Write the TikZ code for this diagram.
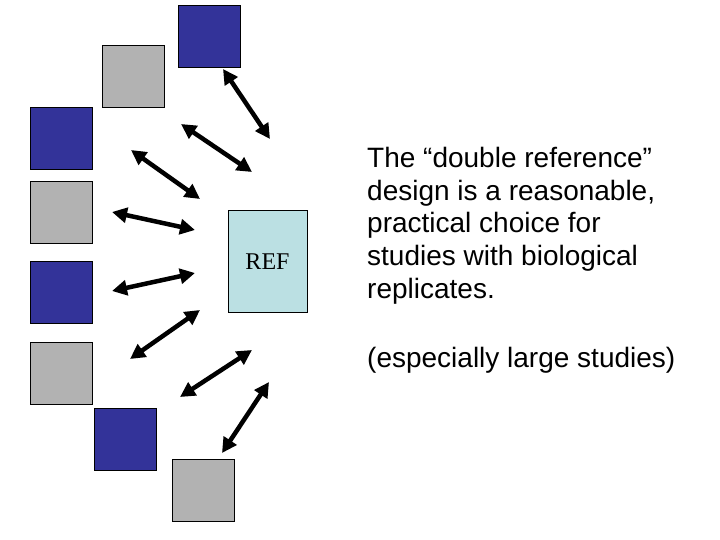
\documentclass[tikz,border=0pt]{standalone}
\usepackage{fontspec}
\setmainfont{Liberation Serif}
\setsansfont{Liberation Sans}
\usetikzlibrary{arrows.meta}

\definecolor{arrayblue}{HTML}{333399}
\definecolor{arraygray}{HTML}{B2B2B2}
\definecolor{refcyan}{HTML}{BBE0E3}

\tikzset{
  chip/.style={draw=black, line width=1pt, minimum size=62pt, inner sep=0pt},
  hyb/.style={line width=4.5pt, {Triangle[length=15pt,width=15pt]}-{Triangle[length=15pt,width=15pt]}},
  bigtext/.style={inner sep=0pt, font=\sffamily\fontsize{28}{32.75}\selectfont},
}

\begin{document}
\begin{tikzpicture}[x=1pt, y=-1pt]
    \useasboundingbox (0,0) rectangle (720,540);

    % Arrays round the reference
    \node[chip, fill=arrayblue] (c1) at (209,37) {};
    \node[chip, fill=arraygray] (c2) at (133,76.5) {};
    \node[chip, fill=arrayblue] (c3) at (61,139) {};
    \node[chip, fill=arraygray] (c4) at (61,212.5) {};
    \node[chip, fill=arrayblue] (c5) at (61,292.5) {};
    \node[chip, fill=arraygray] (c6) at (61,373) {};
    \node[chip, fill=arrayblue] (c7) at (125,439) {};
    \node[chip, fill=arraygray] (c8) at (203,490.5) {};

    % Common reference
    \node[draw, line width=1pt, fill=refcyan, minimum width=79pt, minimum height=101pt,
          font=\fontsize{24}{28}\selectfont] (ref) at (267.5,261.5) {REF};

    % Hybridisations
    \coordinate (s1) at (223,69);  \coordinate (e1) at (270,139);
    \coordinate (s2) at (181,124); \coordinate (e2) at (252,172);
    \coordinate (s3) at (131,150); \coordinate (e3) at (200,199);
    \coordinate (s4) at (112,212); \coordinate (e4) at (195,230);
    \coordinate (s5) at (112,291); \coordinate (e5) at (195,273);
    \coordinate (s6) at (130,359); \coordinate (e6) at (200,310);
    \coordinate (s7) at (180,397); \coordinate (e7) at (252,350);
    \coordinate (s8) at (222,453); \coordinate (e8) at (269,382);
    \foreach \i in {1,...,8}
        \draw[hyb] (s\i) -- (e\i);

    % Comment on the design
    \node[bigtext, anchor=north west, align=left] (note) at (367,147)
        {The “double reference”\\design is a reasonable,\\practical choice for\\studies with biological\\replicates.};
    \node[bigtext, anchor=base west] (aside) at (367,367) {(especially large studies)};
\end{tikzpicture}
\end{document}
